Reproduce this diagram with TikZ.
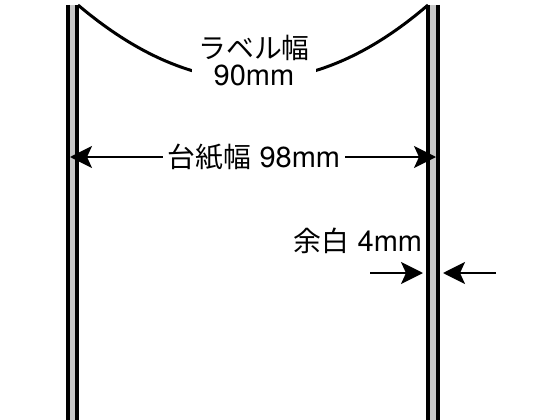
\documentclass[tikz,border=0pt]{standalone}
\usepackage{fontspec}
\setmainfont{TeX Gyre Heros}
\newfontfamily\jp{Noto Sans CJK JP}[Scale=0.96]
\usetikzlibrary{arrows.meta}
\definecolor{stripgray}{gray}{0.78}

\begin{document}
\begin{tikzpicture}[x=1pt,y=-1pt,
    wall/.style={line width=3.5pt},
    dimarrow/.style={line width=1.9pt,-{Stealth[length=22pt,width=22pt,inset=5pt]}},
    lbl/.style={font=\fontsize{29}{27}\selectfont,inner sep=4pt}]
    \useasboundingbox (0,0) rectangle (560,420);

    % 绘制台纸两侧
    \fill[stripgray] (66,5) rectangle (79,420);
    \fill[stripgray] (426,5) rectangle (440,420);
    \draw[wall] (67.8,5) -- (67.8,420);
    \draw[wall] (77.2,5) -- (77.2,420);
    \draw[wall] (428,5) -- (428,420);
    \draw[wall] (438,5) -- (438,420);

    % 绘制标签宽度弧线
    \coordinate (labelL) at (78,5);
    \coordinate (labelR) at (428,5);
    \draw[line width=3pt] (labelL) .. controls (196,105) and (312,105) .. (labelR);
    \node[lbl,align=center,fill=white,inner sep=6pt] (labelwd) at (254,61) {{\jp ラベル幅}\\90mm};

    % 绘制台纸宽度
    \node[lbl,inner sep=5pt] (basewd) at (254,157) {{\jp 台紙幅} 98mm};
    \coordinate (baseL) at (70,157);
    \coordinate (baseR) at (436,157);
    \draw[dimarrow] (basewd) -- (baseL);
    \draw[dimarrow] (basewd) -- (baseR);

    % 绘制余白
    \node[lbl] (margin) at (358,241) {{\jp 余白} 4mm};
    \coordinate (mgA) at (370,273);
    \coordinate (mgB) at (423,273);
    \coordinate (mgC) at (496,273);
    \coordinate (mgD) at (443,273);
    \draw[dimarrow] (mgA) -- (mgB);
    \draw[dimarrow] (mgC) -- (mgD);
\end{tikzpicture}
\end{document}
